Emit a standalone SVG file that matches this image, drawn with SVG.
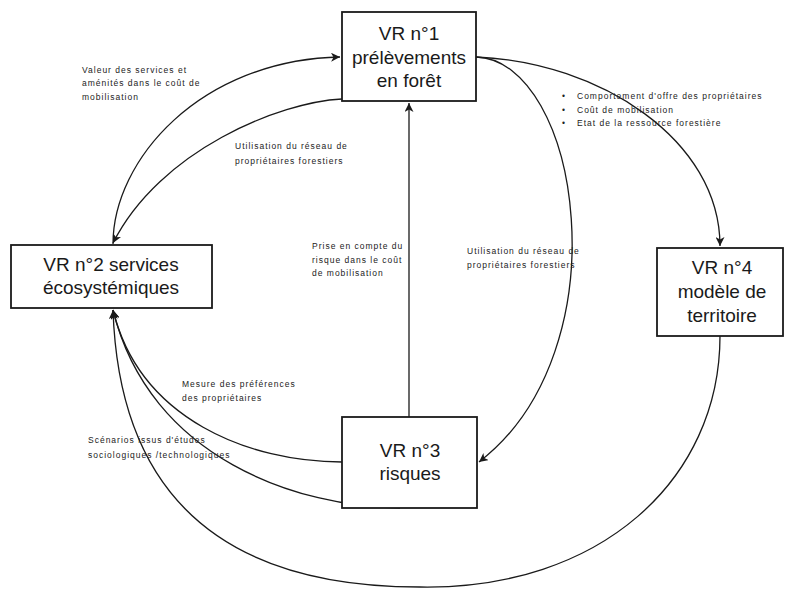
<svg xmlns="http://www.w3.org/2000/svg" width="787" height="590" viewBox="0 0 787 590">
<style>
.box{fill:#fff;stroke:#1a1a1a;stroke-width:1.8}
.bt{font-family:"Liberation Sans",Arial,sans-serif;font-size:19px;fill:#1a1a1a;text-anchor:middle}
.lb{font-family:"Liberation Sans",Arial,sans-serif;font-size:8.5px;fill:#222;letter-spacing:1px}
.c{fill:none;stroke:#1a1a1a;stroke-width:1.3}
</style>
<defs>
<marker id="ar" markerUnits="userSpaceOnUse" markerWidth="10" markerHeight="9" refX="9" refY="4.5" orient="auto">
<path d="M0,0 L9,4.5 L0,9 L2.5,4.5 Z" fill="#1a1a1a"/>
</marker>
</defs>
<rect width="787" height="590" fill="#fff"/>
<g id="connectors">
<path class="c" d="M113,244 C113,160 200,60 340,57" marker-end="url(#ar)"/>
<path class="c" d="M342,99 C280,102 160,150 113,243" marker-end="url(#ar)"/>
<path class="c" d="M476,57 C600,62 720,140 720,246" marker-end="url(#ar)"/>
<path class="c" d="M476,57 C580,60 625,350 479,462" marker-end="url(#ar)"/>
<path class="c" d="M409,417 L409,103" marker-end="url(#ar)"/>
<path class="c" d="M342,462 C250,462 140,420 113,310" marker-end="url(#ar)"/>
<path class="c" d="M400,508 C300,507 150,460 113,310" marker-end="url(#ar)"/>
<path class="c" d="M720,336 C720,480 600,590 420,587 C250,587 120,520 113,310" marker-end="url(#ar)"/>
</g>
<g id="labels">
<text class="lb" x="82" y="73">Valeur des services et<tspan x="82" y="86">aménités dans le coût de</tspan><tspan x="82" y="100">mobilisation</tspan></text>
<text class="lb" x="235" y="149">Utilisation du réseau de<tspan x="235" y="164">propriétaires forestiers</tspan></text>
<text class="lb" x="562" y="99">•</text>
<text class="lb" x="562" y="112.5">•</text>
<text class="lb" x="562" y="126">•</text>
<text class="lb" x="577" y="99">Comportement d'offre des propriétaires<tspan x="577" y="112.5">Coût de mobilisation</tspan><tspan x="577" y="126">Etat de la ressource forestière</tspan></text>
<text class="lb" x="312" y="249">Prise en compte du<tspan x="312" y="263">risque dans le coût</tspan><tspan x="312" y="276">de mobilisation</tspan></text>
<text class="lb" x="467" y="254">Utilisation du réseau de<tspan x="467" y="268">propriétaires forestiers</tspan></text>
<text class="lb" x="182" y="387">Mesure des préférences<tspan x="182" y="401">des propriétaires</tspan></text>
<text class="lb" x="88" y="443">Scénarios issus d'études<tspan x="88" y="458">sociologiques /technologiques</tspan></text>
</g>
<g id="vr1">
<rect class="box" x="342" y="12" width="134" height="89"/>
<text class="bt" x="409" y="40">VR n°1<tspan x="409" y="63.5">prélèvements</tspan><tspan x="409" y="87">en forêt</tspan></text>
</g>
<g id="vr2">
<rect class="box" x="11" y="245" width="201" height="63"/>
<text class="bt" x="111" y="271">VR n°2 services<tspan x="111" y="294">écosystémiques</tspan></text>
</g>
<g id="vr3">
<rect class="box" x="342" y="417" width="135" height="91"/>
<text class="bt" x="410" y="457">VR n°3<tspan x="410" y="480">risques</tspan></text>
</g>
<g id="vr4">
<rect class="box" x="657" y="248" width="126" height="88"/>
<text class="bt" x="722" y="274">VR n°4<tspan x="722" y="298">modèle de</tspan><tspan x="722" y="322">territoire</tspan></text>
</g>
</svg>
